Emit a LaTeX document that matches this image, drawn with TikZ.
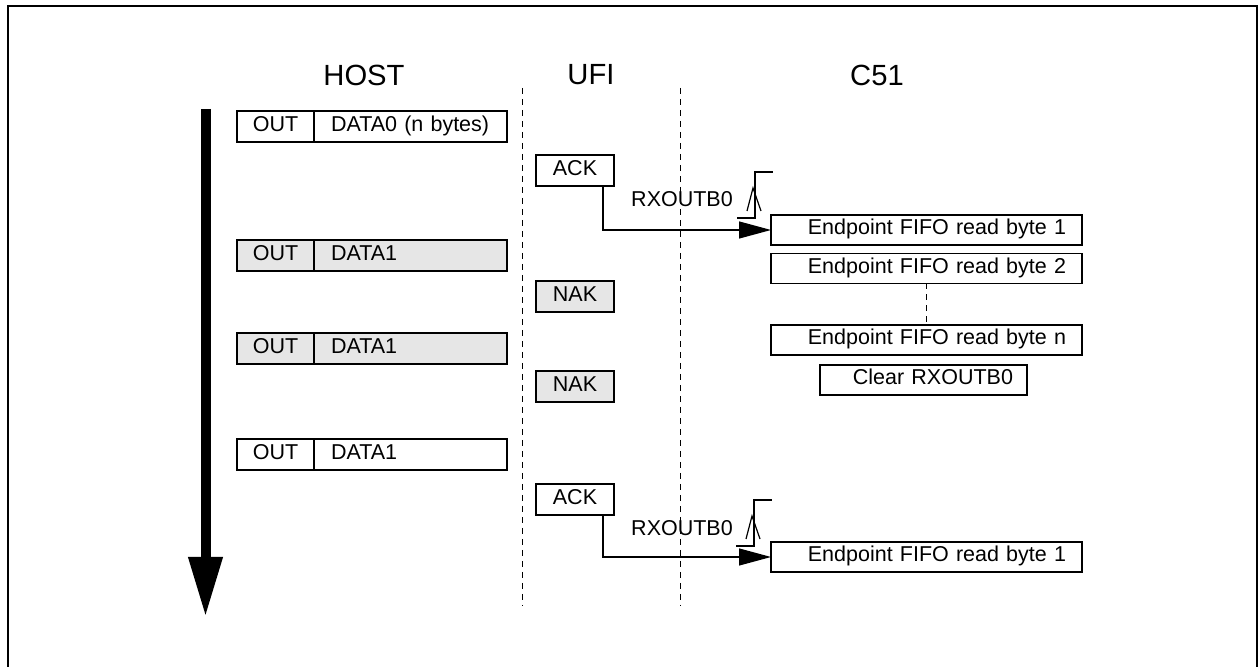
\documentclass[tikz,border=0pt]{standalone}
\usepackage{fontspec}
\setmainfont{Liberation Sans}
\usetikzlibrary{arrows.meta,positioning}
\definecolor{cellgray}{RGB}{230,230,230}

\tikzset{
  edgemark/.pic={
    \draw (-18,0) -- (0,0) -- (0,-46) -- (18,-46);
    \draw (-8,-7) -- (-2,-30) -- (6,-7);
  }
}

\begin{document}
\begin{tikzpicture}
  [x=0.5pt, y=-0.5pt, line width=0.6pt,
   every node/.style={font=\fontsize{10.75}{13}\selectfont},
   cell/.style={draw, anchor=north west, inner sep=0pt, outer sep=0pt,
     minimum height=15.5pt, text height=0.75em, text depth=0.25em},
   outcell/.style={cell, minimum width=38.5pt},
   datacell/.style={cell, inner xsep=8.5pt, text width=79.5pt, align=left},
   hscell/.style={cell, minimum width=39pt},
   fifo/.style={cell, minimum height=15pt, inner xsep=8pt, text width=139.5pt,
     align=right},
   heading/.style={font=\fontsize{14.6}{17}\selectfont},
   lifeline/.style={line width=0.5pt, dash pattern=on 3pt off 2.5pt},
   flow/.style={-{Triangle[length=16pt,width=8.5pt]}}]

  \useasboundingbox (0,0) rectangle (1258,667);
  % frame
  \draw[line width=1.2pt] (8,667) -- (8,6) -- (1257,6) -- (1257,667);

  % column titles
  \node[heading] (host) at (364,75) {HOST};
  \node[heading] (ufi)  at (591,75) {UFI};
  \node[heading] (c51)  at (877,75) {C51};

  % lifelines
  \coordinate (ufiTop) at (522,88);  \coordinate (ufiEnd) at (522,606);
  \coordinate (c51Top) at (680,88);  \coordinate (c51End) at (680,606);
  \draw[lifeline] (ufiTop) -- (ufiEnd);
  \draw[lifeline] (c51Top) -- (c51End);

  % time axis
  \coordinate (tTop) at (205.5,109);
  \coordinate (tEnd) at (205.5,617);
  \draw[line width=5pt, -{Triangle[length=30pt,width=16pt]}] (tTop) -- (tEnd);

  % host packets
  \node[outcell] (outA) at (237,111) {OUT};
  \node[datacell, right=0pt of outA] (dataA) {DATA0 (n bytes)};
  \node[outcell, fill=cellgray] (outB) at (237,240) {OUT};
  \node[datacell, fill=cellgray, right=0pt of outB] (dataB) {DATA1};
  \node[outcell, fill=cellgray] (outC) at (237,333) {OUT};
  \node[datacell, fill=cellgray, right=0pt of outC] (dataC) {DATA1};
  \node[outcell] (outD) at (237,439) {OUT};
  \node[datacell, right=0pt of outD] (dataD) {DATA1};

  % handshakes
  \node[hscell] (ackA) at (536,155) {ACK};
  \node[hscell, fill=cellgray] (nakA) at (536,281) {NAK};
  \node[hscell, fill=cellgray] (nakB) at (536,371) {NAK};
  \node[hscell] (ackB) at (536,484) {ACK};

  % C51 side
  \node[fifo] (fifoA) at (771,215) {Endpoint FIFO read byte 1};
  \node[fifo] (fifoB) at (771,253.5) {Endpoint FIFO read byte 2};
  \node[fifo] (fifoN) at (771,325) {Endpoint FIFO read byte n};
  \node[cell, minimum height=15pt, inner xsep=7pt, text width=89.5pt,
    align=right] (clear) at (820,365) {Clear RXOUTB0};
  \node[fifo] (fifoD) at (771,542) {Endpoint FIFO read byte 1};
  \draw[lifeline] (fifoB.south) -- (fifoN.north);

  % RXOUTB0 set, FIFO read
  \draw[flow] ([xshift=14pt]ackA.south) |- (fifoA.west);
  \node (flagA) at (682,199) {RXOUTB0};
  \coordinate (edgeA) at (755,218);
  \pic at (edgeA) {edgemark};

  \draw[flow] ([xshift=14pt]ackB.south) |- (fifoD.west);
  \node (flagB) at (682,528) {RXOUTB0};
  \coordinate (edgeB) at (754,546);
  \pic at (edgeB) {edgemark};
\end{tikzpicture}
\end{document}
